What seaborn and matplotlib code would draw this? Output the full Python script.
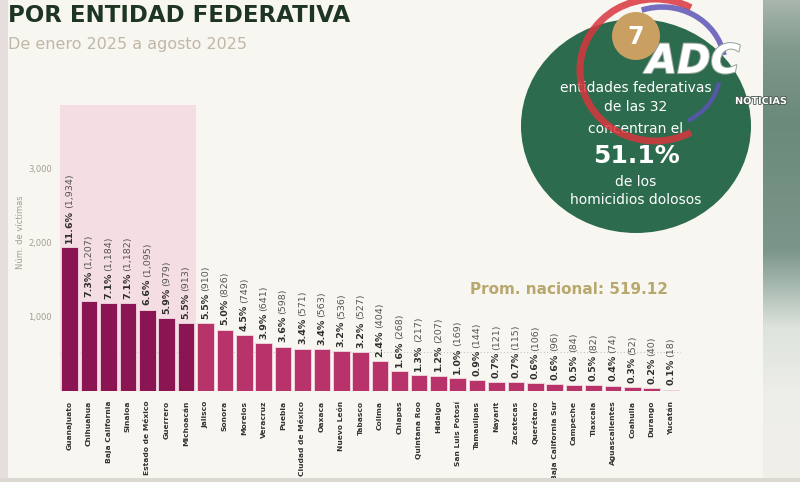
import matplotlib
matplotlib.use('Agg')
import matplotlib.pyplot as plt
import matplotlib.patheffects as pe
from matplotlib.patches import Ellipse, Circle, Rectangle, Arc
from matplotlib.colors import LinearSegmentedColormap
import seaborn as sns
import pandas as pd
import numpy as np

# ---------------- data ----------------
states = ["Guanajuato", "Chihuahua", "Baja California", "Sinaloa", "Estado de México",
          "Guerrero", "Michoacán", "Jalisco", "Sonora", "Morelos", "Veracruz", "Puebla",
          "Ciudad de México", "Oaxaca", "Nuevo León", "Tabasco", "Colima", "Chiapas",
          "Quintana Roo", "Hidalgo", "San Luis Potosí", "Tamaulipas", "Nayarit",
          "Zacatecas", "Querétaro", "Baja California Sur", "Campeche", "Tlaxcala",
          "Aguascalientes", "Coahuila", "Durango", "Yucatán"]
victims = [1934, 1207, 1184, 1182, 1095, 979, 913, 910, 826, 749, 641, 598, 571, 563,
           536, 527, 404, 268, 217, 207, 169, 144, 121, 115, 106, 96, 84, 82, 74, 52, 40, 18]
shares = [11.6, 7.3, 7.1, 7.1, 6.6, 5.9, 5.5, 5.5, 5.0, 4.5, 3.9, 3.6, 3.4, 3.4, 3.2, 3.2,
          2.4, 1.6, 1.3, 1.2, 1.0, 0.9, 0.7, 0.7, 0.6, 0.6, 0.5, 0.5, 0.4, 0.3, 0.2, 0.1]
top_n = 7
national_avg = 519.12
y_ticks = [1000, 2000, 3000]

title = "POR ENTIDAD FEDERATIVA"
subtitle = "De enero 2025 a agosto 2025"
circle_lines = ["entidades federativas", "de las 32", "concentran el", "51.1%",
                "de los", "homicidios dolosos"]
badge_number = "7"

# ---------------- style ----------------
sns.set_theme(style="white")
plt.rcParams['font.family'] = ['DejaVu Sans']

BG = '#f8f6f1'
DARK = '#8a1552'
LIGHT = '#b8336a'

W, H = 800, 482
fig = plt.figure(figsize=(W / 100, H / 100), dpi=100)
fig.patch.set_facecolor(BG)

ax = fig.add_axes([60 / W, 91 / H, 620.8 / W, 286 / H])
ax.set_facecolor('none')

df = pd.DataFrame({
    'Entidad': states,
    'Victimas': victims,
    'Grupo': ['top' if i < top_n else 'resto' for i in range(len(states))],
})
sns.barplot(data=df, x='Entidad', y='Victimas', hue='Grupo',
            palette={'top': DARK, 'resto': LIGHT}, dodge=False, legend=False,
            saturation=1, width=0.86, edgecolor='#f3d9e2', linewidth=0.6,
            ax=ax, zorder=2)

ax.set_xlim(-0.5, len(states) - 0.5)
ax.set_ylim(0, 3850)
ax.axvspan(-0.5, top_n - 0.5, color='#f5dde4', zorder=0, lw=0)
ax.axhline(national_avg, color='#c9c3b9', lw=0.8, ls=(0, (1, 2)), zorder=1)

for s in ax.spines.values():
    s.set_visible(False)
ax.set_yticks(y_ticks)
ax.set_yticklabels([f'{v:,}' for v in y_ticks], fontsize=6, color='#a39d92')
ax.tick_params(axis='y', length=0, pad=6)
ax.set_xticks(range(len(states)))
ax.set_xticklabels(states, rotation=90, fontsize=5.4, color='#333333', fontweight='bold')
ax.tick_params(axis='x', length=0, pad=7)
ax.set_xlabel('')
ax.set_ylabel('Núm. de víctimas', fontsize=6, color='#a39d92')
ax.yaxis.set_label_coords(-0.056, 0.556)
ax.grid(False)

# bar labels: bold percentage + normal count
pct_texts = []
for i, (v, p) in enumerate(zip(victims, shares)):
    t = ax.annotate(f'{p:.1f}%', (i, v), xytext=(0, 3), textcoords='offset points',
                    rotation=90, ha='center', va='bottom', fontsize=6.8,
                    fontweight='bold', color='#2e2e2e', zorder=3)
    pct_texts.append(t)
fig.canvas.draw()
renderer = fig.canvas.get_renderer()
for i, (v, t) in enumerate(zip(victims, pct_texts)):
    h_px = t.get_window_extent(renderer).height
    off = 3 + (h_px + 2) * 72 / 100
    ax.annotate(f'({v:,})', (i, v), xytext=(0, off), textcoords='offset points',
                rotation=90, ha='center', va='bottom', fontsize=6.8,
                color='#555555', zorder=3)

# ---------------- overlay decorations ----------------
oax = fig.add_axes([0, 0, 1, 1], zorder=5)
oax.set_facecolor('none')

# right strip gradient
cmap = LinearSegmentedColormap.from_list('strip', [
    (0.0, '#a9b6ae'), (0.10, '#80998b'), (0.25, '#6b8a7b'), (0.52, '#7b968a'),
    (0.68, '#dde3dd'), (0.82, '#eeeee8'), (1.0, '#f1efe9')])
grad = np.linspace(0, 1, 256).reshape(-1, 1)
oax.imshow(grad, extent=(763, 800, 482, 0), aspect='auto', cmap=cmap, zorder=0)
oax.add_patch(Rectangle((0, 0), 8, 482, color='#e6dedd', zorder=0, lw=0))
oax.add_patch(Rectangle((0, 478), 800, 4, color='#dcd9d2', zorder=0, lw=0))

# titles
oax.text(8, 15, title, fontsize=16.5, fontweight='bold', color='#1f3524', va='center', ha='left')
oax.text(8, 45, subtitle, fontsize=11.5, color='#c0b7a7', va='center', ha='left')

# average annotation
oax.text(470, 290, f'Prom. nacional: {national_avg:.2f}', fontsize=11, fontweight='bold',
         color='#b8a86e', va='center', ha='left')

# green circle
oax.add_patch(Ellipse((636, 126), 230, 214, color='#2c6b4e', zorder=1, lw=0))
oax.add_patch(Circle((636, 36), 24, color='#c9a062', zorder=2, lw=0))
oax.text(636, 37, badge_number, fontsize=17, fontweight='bold', color='white',
         ha='center', va='center', zorder=3)
ys = [88, 107, 129, 156, 182, 200]
sizes = [10, 10, 10, 18, 10, 10]
weights = ['normal', 'normal', 'normal', 'bold', 'normal', 'normal']
for line, y, s, w in zip(circle_lines, ys, sizes, weights):
    oax.text(636, y, line, fontsize=s, fontweight=w, color='white',
             ha='center', va='center', zorder=3)

# watermark (ADC Noticias)
oax.add_patch(Arc((655, 70), 150, 142, theta1=60, theta2=300, color='#d9363e',
                  lw=5, alpha=0.85, zorder=4))
oax.add_patch(Arc((662, 66), 126, 118, theta1=250, theta2=350, color='#5d55b8',
                  lw=4, alpha=0.85, zorder=4))
oax.add_patch(Arc((660, 72), 120, 110, theta1=10, theta2=60, color='#5d55b8',
                  lw=3, alpha=0.85, zorder=4))
oax.text(646, 62, 'ADC', fontsize=29, fontweight='bold', fontstyle='italic', color='white',
         ha='left', va='center', zorder=5,
         path_effects=[pe.withStroke(linewidth=1.5, foreground='#9aa7a0')])
oax.text(735, 101, 'NOTICIAS', fontsize=7, fontweight='bold', color='white',
         ha='left', va='center', zorder=5,
         path_effects=[pe.withStroke(linewidth=1.2, foreground='#44554c')])

oax.set_xlim(0, 800)
oax.set_ylim(482, 0)
oax.axis('off')

fig.savefig('out.png', dpi=100, facecolor=BG)
